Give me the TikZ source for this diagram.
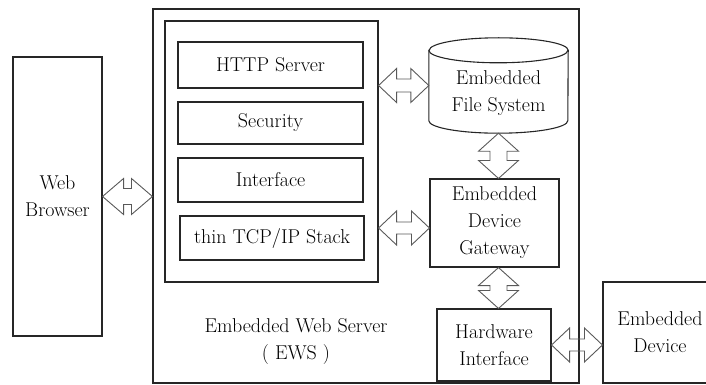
\documentclass[tikz,border=0pt]{standalone}
\usetikzlibrary{calc}

% horizontal double arrow from #1 (left) to #2 (right):
% #3 head half-height, #4 shaft half-height, #5 head length
\newcommand\harrow[5]{%
  \draw[darrow] let \p1=(#1), \p2=(#2) in
    (\x1,\y1) -- (\x1+#5,\y1+#3) -- (\x1+#5,\y1+#4) -- (\x2-#5,\y1+#4)
    -- (\x2-#5,\y1+#3) -- (\x2,\y1) -- (\x2-#5,\y1-#3) -- (\x2-#5,\y1-#4)
    -- (\x1+#5,\y1-#4) -- (\x1+#5,\y1-#3) -- cycle;}
% vertical double arrow from #1 (top) to #2 (bottom)
\newcommand\varrow[5]{%
  \draw[darrow] let \p1=(#1), \p2=(#2) in
    (\x1,\y1) -- (\x1+#3,\y1-#5) -- (\x1+#4,\y1-#5) -- (\x1+#4,\y2+#5)
    -- (\x1+#3,\y2+#5) -- (\x1,\y2) -- (\x1-#3,\y2+#5) -- (\x1-#4,\y2+#5)
    -- (\x1-#4,\y1-#5) -- (\x1-#3,\y1-#5) -- cycle;}

\begin{document}
\begin{tikzpicture}[x=1pt,y=-1pt,
  every node/.style={font=\rmfamily\fontsize{20}{27}\selectfont, align=center, inner sep=0pt},
  box/.style={draw=black!85, line width=1.1pt},
  darrow/.style={draw=black!65, line width=0.9pt, line join=miter}]
\useasboundingbox (0,0) rectangle (706,385);

% outer frame of the embedded web server and its software stack
\node[box, minimum width=426pt, minimum height=374pt] (ews) at (366,196) {};
\node[box, minimum width=213pt, minimum height=261pt] (stack) at (271.5,151.5) {};
\node[box, minimum width=185pt, minimum height=46pt] (http) at (270.5,65) {HTTP Server};
\node[box, minimum width=185pt, minimum height=42pt] (sec) at (270.5,123) {Security};
\node[box, minimum width=185pt, minimum height=44pt] (intf) at (270.5,180) {Interface};
\node[box, minimum width=184pt, minimum height=44pt] (tcp) at (272,238) {thin TCP/IP Stack};
\node (ewslabel) at (296,342) {Embedded Web Server\\( EWS )};

% client side
\node[box, minimum width=89pt, minimum height=279pt] (browser) at (57.5,196.5) {Web\\Browser};

% file system drawn as a cylinder
\node[minimum width=139pt, minimum height=95pt] (fs) at (498.5,85.5) {};
\node (fstext) at (498.5,93) {Embedded\\File System};
\draw[box] ([yshift=-12.5pt]fs.north west) -- ([yshift=12.5pt]fs.south west)
  arc (180:360:69.5pt and 12.5pt) -- ([yshift=-12.5pt]fs.north east)
  arc (0:180:69.5pt and 12.5pt) -- cycle;
\draw[box] ([yshift=-12.5pt]fs.north west) arc (180:360:69.5pt and 12.5pt);

\node[box, minimum width=129pt, minimum height=88pt] (gw) at (494.5,223) {Embedded\\Device\\Gateway};
\node[box, minimum width=114pt, minimum height=72pt] (hw) at (494,345) {Hardware\\Interface};
\node[box, minimum width=114pt, minimum height=101pt] (dev) at (660,332.5) {Embedded\\Device};

% connectors
\coordinate (gwin) at ([yshift=-5pt]gw.west);
\harrow{browser.east}{ews.west |- browser.east}{18pt}{8pt}{21pt}
\harrow{stack.east |- fs.west}{fs.west}{17pt}{6.5pt}{18pt}
\harrow{stack.east |- gwin}{gwin}{17pt}{6pt}{18pt}
\harrow{hw.east}{dev.west |- hw.east}{17pt}{6pt}{18pt}
\varrow{fs.south}{fs.south |- gw.north}{20pt}{8.5pt}{18pt}
\varrow{fs.south |- gw.south}{fs.south |- hw.north}{20pt}{8.5pt}{18pt}
\end{tikzpicture}
\end{document}
